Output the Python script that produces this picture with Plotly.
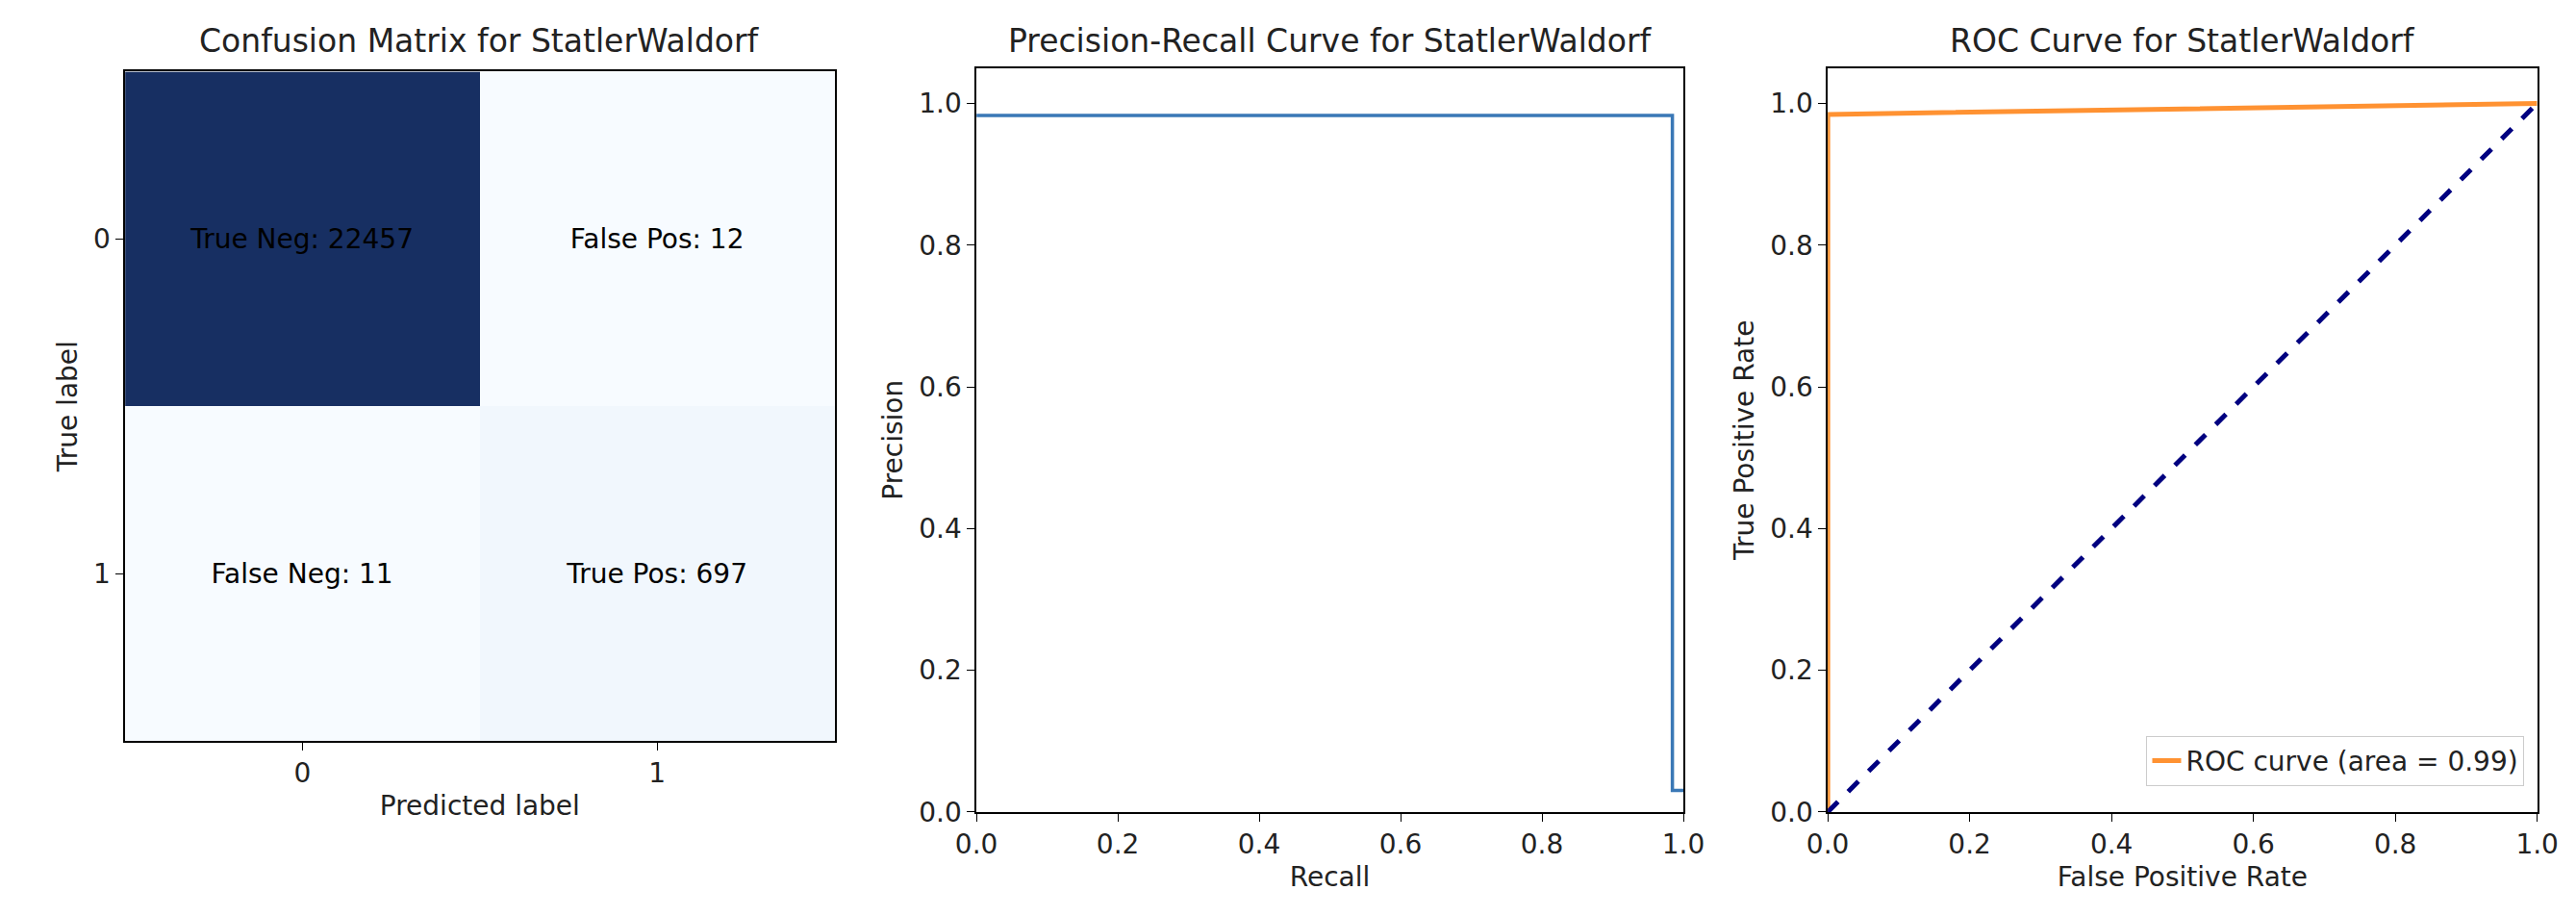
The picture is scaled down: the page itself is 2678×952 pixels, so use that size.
import plotly.graph_objects as go
from plotly.subplots import make_subplots

cm_labels = ['0', '1']
cm_values = [[22457, 12], [11, 697]]
cm_text = [['True Neg: 22457', 'False Pos: 12'], ['False Neg: 11', 'True Pos: 697']]

recall = [0.0, 0.9845, 0.9845, 1.0]
precision = [0.983, 0.983, 0.0305, 0.0305]

fpr = [0.0, 0.0, 1.0]
tpr = [0.0, 0.9845, 1.0]
roc_area = 0.99

font = 'DejaVu Sans'
fs = 28
blues = [[0, '#f7fbff'], [0.125, '#deebf7'], [0.25, '#c6dbef'], [0.375, '#9ecae1'], [0.5, '#6baed6'],
         [0.625, '#4292c6'], [0.75, '#2171b5'], [0.875, '#08519c'], [1, '#172f62']]

fig = make_subplots(rows=1, cols=3)

fig.add_trace(go.Heatmap(z=cm_values, x=cm_labels, y=cm_labels, text=cm_text, texttemplate='%{text}',
                         textfont=dict(size=fs, color='black', family=font), colorscale=blues,
                         showscale=False, xgap=0, ygap=0), row=1, col=1)

fig.add_trace(go.Scatter(x=recall, y=precision, mode='lines', line=dict(color='#3a78b6', width=3.5),
                         showlegend=False), row=1, col=2)

fig.add_trace(go.Scatter(x=fpr, y=tpr, mode='lines', line=dict(color='rgba(255,127,14,0.85)', width=5),
                         name=f'ROC curve (area = {roc_area:.2f})'), row=1, col=3)
fig.add_trace(go.Scatter(x=[0, 1], y=[0, 1], mode='lines', line=dict(color='navy', width=5, dash='dash'),
                         showlegend=False), row=1, col=3)

ax = dict(showline=True, linecolor='black', linewidth=1.5, mirror=True, ticks='outside', ticklen=8,
          tickcolor='black', showgrid=False, zeroline=False,
          tickfont=dict(size=fs, family=font, color='#222'))
lab = dict(size=fs, family=font, color='#222')

fig.update_xaxes(ax)
fig.update_yaxes(ax)
fig.update_layout(
    xaxis=dict(domain=[0.038, 0.318], title=dict(text='Predicted label', font=lab, standoff=8), type='category'),
    yaxis=dict(domain=[0.185, 0.929], title=dict(text='True label', font=lab, standoff=8), type='category',
               autorange='reversed'),
    xaxis2=dict(domain=[0.374, 0.653], range=[0, 1], dtick=0.2, tickformat='.1f',
                title=dict(text='Recall', font=lab, standoff=8)),
    yaxis2=dict(domain=[0.106, 0.933], range=[0, 1.05], dtick=0.2, tickformat='.1f',
                title=dict(text='Precision', font=lab, standoff=8)),
    xaxis3=dict(domain=[0.710, 0.990], range=[0, 1], dtick=0.2, tickformat='.1f',
                title=dict(text='False Positive Rate', font=lab, standoff=8)),
    yaxis3=dict(domain=[0.106, 0.933], range=[0, 1.05], dtick=0.2, tickformat='.1f',
                title=dict(text='True Positive Rate', font=lab, standoff=8)),
    legend=dict(x=0.985, y=0.135, xanchor='right', yanchor='bottom', bordercolor='#ccc', borderwidth=1,
                bgcolor='white', font=dict(size=fs, family=font, color='#222')),
    plot_bgcolor='white', paper_bgcolor='white',
    margin=dict(l=0, r=0, t=0, b=0), width=2678, height=952,
    annotations=[
        dict(text='Confusion Matrix for StatlerWaldorf', x=0.178, y=0.94, xref='paper', yref='paper',
             xanchor='center', yanchor='bottom', showarrow=False, font=dict(size=33, family=font, color='#222')),
        dict(text='Precision-Recall Curve for StatlerWaldorf', x=0.5135, y=0.94, xref='paper', yref='paper',
             xanchor='center', yanchor='bottom', showarrow=False, font=dict(size=33, family=font, color='#222')),
        dict(text='ROC Curve for StatlerWaldorf', x=0.85, y=0.94, xref='paper', yref='paper',
             xanchor='center', yanchor='bottom', showarrow=False, font=dict(size=33, family=font, color='#222')),
    ],
)

fig.write_html("out.html")
